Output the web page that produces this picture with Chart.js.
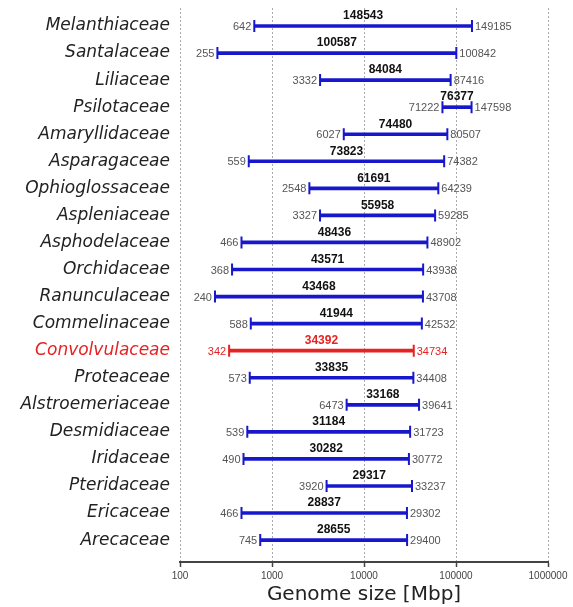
<!DOCTYPE html>
<html>
<head>
<meta charset="utf-8">
<script src="https://cdn.jsdelivr.net/npm/chart.js@4"></script>
<style>
html,body{margin:0;padding:0;background:#fff;}
#wrap{width:573px;height:607px;}
</style>
</head>
<body>
<div id="wrap"><canvas id="mycanvas"></canvas></div>
<script>
var families = ['Melanthiaceae','Santalaceae','Liliaceae','Psilotaceae','Amaryllidaceae','Asparagaceae','Ophioglossaceae','Aspleniaceae','Asphodelaceae','Orchidaceae','Ranunculaceae','Commelinaceae','Convolvulaceae','Proteaceae','Alstroemeriaceae','Desmidiaceae','Iridaceae','Pteridaceae','Ericaceae','Arecaceae'];
var minSize = [642,255,3332,71222,6027,559,2548,3327,466,368,240,588,342,573,6473,539,490,3920,466,745];
var maxSize = [149185,100842,87416,147598,80507,74382,64239,59285,48902,43938,43708,42532,34734,34408,39641,31723,30772,33237,29302,29400];
var rangeSize = [148543,100587,84084,76377,74480,73823,61691,55958,48436,43571,43468,41944,34392,33835,33168,31184,30282,29317,28837,28655];
var xTicks = [100,1000,10000,100000,1000000];
var highlight = 'Convolvulaceae';

var BLUE = '#1717cc', RED = '#e62222';
function rowColor(i){ return families[i] === highlight ? RED : BLUE; }

var chartdata = {
  datasets: [{
    label: '',
    data: families.map(function(f, i){ return {x: [minSize[i], maxSize[i]], y: i}; }),
    backgroundColor: families.map(function(f, i){ return rowColor(i); }),
    borderWidth: 0,
    barThickness: 3
  }]
};

// caps + number labels
var labelPlugin = {
  id: 'rangeLabels',
  afterDatasetsDraw: function(chart){
    var c = chart.ctx, xs = chart.scales.x, ys = chart.scales.y;
    c.save();
    for (var i = 0; i < families.length; i++) {
      var y = ys.getPixelForValue(i);
      var x0 = xs.getPixelForValue(minSize[i]);
      var x1 = xs.getPixelForValue(maxSize[i]);
      var col = rowColor(i);
      c.strokeStyle = col;
      c.lineWidth = 2;
      c.beginPath();
      c.moveTo(x0, y - 6); c.lineTo(x0, y + 6);
      c.moveTo(x1, y - 6); c.lineTo(x1, y + 6);
      c.stroke();
      var red = families[i] === highlight;
      c.textBaseline = 'middle';
      c.font = '11px "Liberation Sans", Arial, sans-serif';
      c.fillStyle = red ? RED : '#555';
      c.textAlign = 'right';
      c.fillText(String(minSize[i]), x0 - 3, y + 1);
      c.textAlign = 'left';
      c.fillText(String(maxSize[i]), x1 + 3, y + 1);
      var xm = xs.getPixelForValue(Math.sqrt(minSize[i] * maxSize[i]));
      c.font = 'bold 12px "Liberation Sans", Arial, sans-serif';
      c.fillStyle = red ? RED : '#111';
      c.textAlign = 'center';
      c.fillText(String(rangeSize[i]), xm, y - 10);
    }
    c.restore();
  }
};

var ctx = document.querySelector('#mycanvas');
var barGraph = new Chart(ctx, {
  type: 'bar',
  data: chartdata,
  plugins: [labelPlugin],
  options: {
    indexAxis: 'y',
    responsive: true,
    maintainAspectRatio: false,
    animation: false,
    layout: {padding: {top: 8, right: 25, bottom: 0, left: 0}},
    plugins: {legend: {display: false}, tooltip: {enabled: false}},
    scales: {
      x: {
        type: 'logarithmic',
        min: 100,
        max: 1000000,
        afterFit: function(scale){ scale.height -= 2; },
        afterBuildTicks: function(scale){
          scale.ticks = xTicks.map(function(v){ return {value: v, major: true}; });
        },
        ticks: {
          autoSkip: false,
          maxRotation: 0,
          padding: 3,
          color: '#444',
          font: {family: '"Liberation Sans", Arial, sans-serif', size: 10},
          callback: function(v){ return String(v); }
        },
        grid: {
          color: '#aaa',
          lineWidth: 1,
          drawTicks: true,
          tickLength: 5,
          tickColor: '#444',
          tickBorderDash: [],
          tickWidth: 1.5
        },
        border: {display: true, color: '#444', width: 2, dash: [2, 2]},
        title: {
          display: true,
          text: 'Genome size [Mbp]',
          color: '#222',
          font: {family: '"DejaVu Sans", sans-serif', size: 20},
          padding: {top: 0, bottom: 0}
        }
      },
      y: {
        type: 'linear',
        reverse: true,
        offset: false,
        min: -0.665,
        max: 19.81,
        afterFit: function(scale){
          scale.width = 180;
          scale.paddingTop = 0;
          scale.paddingBottom = 0;
        },
        afterBuildTicks: function(scale){
          scale.ticks = families.map(function(f, i){ return {value: i}; });
        },
        ticks: {
          autoSkip: false,
          padding: 10,
          color: function(c){ return families[c.index] === highlight ? RED : '#222'; },
          font: {family: '"DejaVu Sans", sans-serif', size: 17, style: 'italic'},
          callback: function(v, i){ return families[i]; }
        },
        grid: {display: false, drawTicks: false},
        border: {display: false}
      }
    }
  }
});
</script>
</body>
</html>
